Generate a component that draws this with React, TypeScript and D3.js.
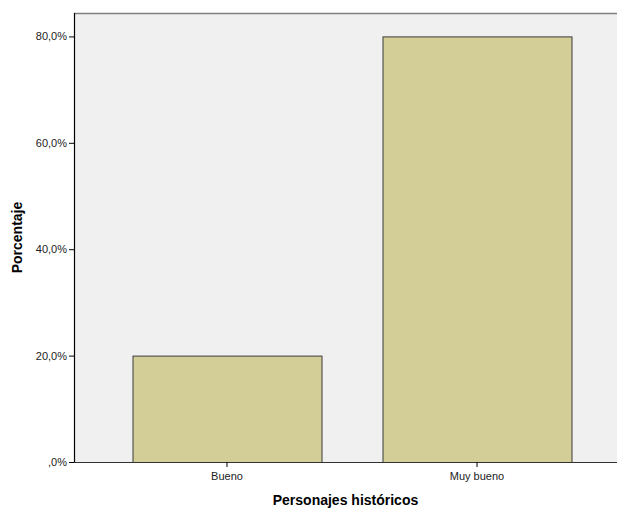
import React from "react";
import * as d3 from "d3";

const categories = ["Bueno", "Muy bueno"];
const values = [20, 80];
const yTicks = [0, 20, 40, 60, 80];
const yTickLabels = [",0%", "20,0%", "40,0%", "60,0%", "80,0%"];
const xTitle = "Personajes históricos";
const yTitle = "Porcentaje";

export default function App() {
  const W = 618, H = 508;
  const left = 74, right = 617, top = 13, bottom = 462;
  const y = d3.scaleLinear().domain([0, 84.4]).range([bottom, top]);
  const x = d3.scaleBand<string>().domain(categories).range([102, 602]).paddingInner(0.244).paddingOuter(0.122);
  const font = "'Liberation Sans', Arial, sans-serif";
  return (
    <svg width={W} height={H} style={{ position: "absolute", left: 0, top: 0 }}>
      <rect x={left} y={top} width={right - left} height={bottom - top} fill="#F0F0F0" />
      <line x1={left} x2={right} y1={top + 0.5} y2={top + 0.5} stroke="#808080" strokeWidth={1.5} />
      {categories.map((c, i) => (
        <rect key={c} x={x(c)! + 0.5} y={y(values[i]) + 0.5} width={x.bandwidth()} height={bottom - y(values[i])}
          fill="#D3CE97" stroke="#3a3a3a" strokeWidth={1} />
      ))}
      <line x1={left + 0.5} x2={left + 0.5} y1={top} y2={bottom} stroke="#000" strokeWidth={1.2} />
      <line x1={left} x2={right} y1={bottom + 0.5} y2={bottom + 0.5} stroke="#333" strokeWidth={1.2} />
      {yTicks.map((t, i) => (
        <g key={t}>
          <line x1={left - 5} x2={left} y1={y(t) + 0.5} y2={y(t) + 0.5} stroke="#000" />
          <text x={left - 7} y={y(t) + 4} textAnchor="end" fontFamily={font} fontSize={11} fill="#222">{yTickLabels[i]}</text>
        </g>
      ))}
      {categories.map((c) => (
        <g key={c}>
          <line x1={x(c)! + x.bandwidth() / 2} x2={x(c)! + x.bandwidth() / 2} y1={bottom} y2={bottom + 5} stroke="#000" />
          <text x={x(c)! + x.bandwidth() / 2} y={480} textAnchor="middle" fontFamily={font} fontSize={11} fill="#222">{c}</text>
        </g>
      ))}
      <text x={(left + right) / 2} y={505} textAnchor="middle" fontFamily={font} fontSize={14} fontWeight="bold" fill="#000">{xTitle}</text>
      <text transform={`translate(22, ${(top + bottom) / 2}) rotate(-90)`} textAnchor="middle" fontFamily={font} fontSize={14} fontWeight="bold" fill="#000">{yTitle}</text>
    </svg>
  );
}
